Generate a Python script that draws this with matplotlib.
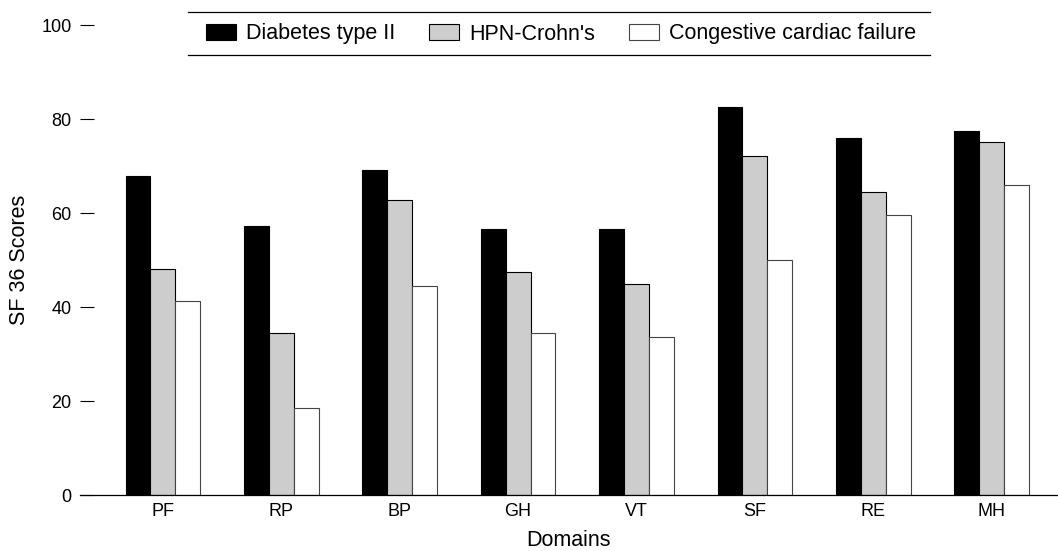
import matplotlib
matplotlib.use("Agg")
import matplotlib.pyplot as plt
from matplotlib.lines import Line2D
import numpy as np

plt.rcParams['font.family'] = ['Liberation Sans', 'DejaVu Sans']

domains = ['PF', 'RP', 'BP', 'GH', 'VT', 'SF', 'RE', 'MH']
diabetes = [67.9, 57.2, 69.1, 56.6, 56.5, 82.6, 75.9, 77.5]
hpn_crohn = [48.1, 34.5, 62.8, 47.5, 45.0, 72.2, 64.5, 75.2]
cardiac = [41.3, 18.6, 44.5, 34.5, 33.7, 50.1, 59.6, 65.9]
series_names = ['Diabetes type II', "HPN-Crohn's", 'Congestive cardiac failure']

fig = plt.figure(figsize=(10.58, 5.51), dpi=100)
ax = fig.add_axes([80 / 1058, 56 / 551, 978 / 1058, 470 / 551])

x = np.arange(len(domains))
w = 0.21
ax.bar(x - w, diabetes, w, color='black', edgecolor='black', linewidth=0.8,
       label=series_names[0])
ax.bar(x, hpn_crohn, w, color='#cdcdcd', edgecolor='black', linewidth=0.8,
       label=series_names[1])
ax.bar(x + w, cardiac, w, color='white', edgecolor='#444444', linewidth=0.8,
       label=series_names[2])

ax.set_xlim(-0.70, 7.56)
ax.set_ylim(0, 100)
ax.set_xticks(x)
ax.set_xticklabels(domains)
ax.set_yticks([0, 20, 40, 60, 80, 100])

for side in ['top', 'right', 'left']:
    ax.spines[side].set_visible(False)
ax.spines['bottom'].set_linewidth(0.9)
ax.tick_params(axis='x', length=0, pad=6, labelsize=13)
ax.tick_params(axis='y', direction='in', length=10, width=0.8, pad=6, labelsize=13)

ax.set_ylabel('SF 36 Scores', fontsize=15.5, labelpad=8)
ax.set_xlabel('Domains', fontsize=15.5, labelpad=7)

leg = fig.legend(loc='center', bbox_to_anchor=(561 / 1058, 1 - 34 / 551), ncol=3,
                 frameon=False, fontsize=15.5, handlelength=1.4, handleheight=0.75,
                 handletextpad=0.45, columnspacing=1.6)

# horizontal rules above and below the legend
for yy in [12, 55]:
    fig.add_artist(Line2D([188 / 1058, 930 / 1058], [1 - yy / 551, 1 - yy / 551],
                          transform=fig.transFigure, color='black', linewidth=0.9))

fig.savefig('out.png', dpi=100)
